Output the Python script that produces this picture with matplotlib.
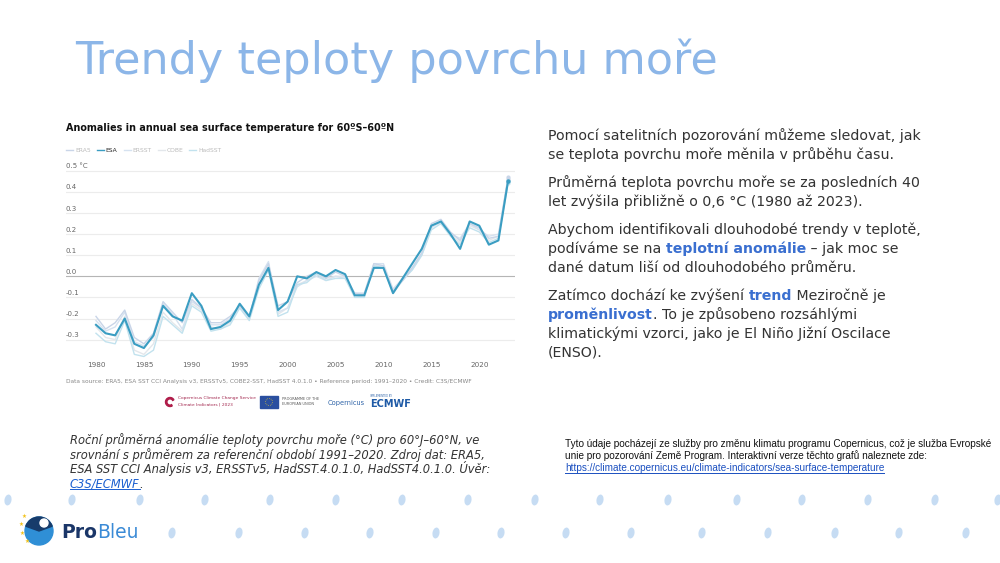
"""
Trendy teploty povrchu more - slide ProBleu.
"""
import matplotlib
matplotlib.use("Agg")
import matplotlib.pyplot as plt
import matplotlib.transforms as mtransforms
from matplotlib.patches import Ellipse, Rectangle, Circle, Wedge
import numpy as np

# ---- data -------------------------------------------------------------
years = list(range(1980, 2024))

esa = [-0.23, -0.27, -0.28, -0.20, -0.32, -0.34, -0.28, -0.14, -0.19, -0.21,
       -0.08, -0.14, -0.25, -0.24, -0.21, -0.13, -0.19, -0.04, 0.04, -0.16,
       -0.12, 0.00, -0.01, 0.02, 0.00, 0.03, 0.01, -0.09, -0.09, 0.04,
       0.04, -0.08, -0.01, 0.06, 0.13, 0.24, 0.26, 0.20, 0.13, 0.26,
       0.24, 0.15, 0.17, 0.45]
era5 = [-0.19, -0.25, -0.22, -0.16, -0.29, -0.32, -0.27, -0.12, -0.17, -0.22,
        -0.11, -0.15, -0.22, -0.22, -0.19, -0.14, -0.19, -0.02, 0.06, -0.14,
        -0.12, -0.03, 0.00, 0.02, -0.01, 0.02, 0.00, -0.08, -0.08, 0.06,
        0.05, -0.07, -0.02, 0.04, 0.11, 0.25, 0.27, 0.21, 0.17, 0.25,
        0.23, 0.18, 0.19, 0.47]
ersst = [-0.21, -0.26, -0.24, -0.17, -0.31, -0.33, -0.29, -0.13, -0.18, -0.25,
         -0.12, -0.15, -0.23, -0.23, -0.20, -0.15, -0.20, -0.01, 0.07, -0.17,
         -0.15, -0.05, -0.02, 0.00, -0.02, 0.00, -0.01, -0.08, -0.09, 0.06,
         0.06, -0.06, -0.01, 0.03, 0.10, 0.23, 0.26, 0.20, 0.18, 0.25,
         0.22, 0.19, 0.20, 0.46]
cobe = [-0.24, -0.29, -0.30, -0.19, -0.35, -0.37, -0.32, -0.17, -0.22, -0.26,
        -0.13, -0.16, -0.24, -0.25, -0.22, -0.14, -0.20, -0.04, 0.05, -0.18,
        -0.15, -0.04, -0.02, 0.01, -0.01, 0.00, 0.00, -0.09, -0.10, 0.05,
        0.05, -0.07, -0.02, 0.04, 0.11, 0.24, 0.25, 0.20, 0.16, 0.24,
        0.22, 0.17, 0.19, 0.46]
hadsst = [-0.27, -0.31, -0.32, -0.21, -0.37, -0.38, -0.35, -0.19, -0.23, -0.27,
          -0.14, -0.17, -0.26, -0.25, -0.23, -0.15, -0.21, -0.06, 0.03, -0.19,
          -0.17, -0.04, -0.03, 0.01, -0.02, -0.01, -0.01, -0.10, -0.10, 0.05,
          0.04, -0.08, -0.02, 0.03, 0.10, 0.22, 0.25, 0.19, 0.15, 0.23,
          0.21, 0.16, 0.18, 0.44]

series_names = ["ERA5", "ESA", "ERSST", "COBE", "HadSST"]
y_ticks = [-0.3, -0.2, -0.1, 0.0, 0.1, 0.2, 0.3, 0.4, 0.5]
x_ticks = [1980, 1985, 1990, 1995, 2000, 2005, 2010, 2015, 2020]

W, H = 1000, 563
TXT = "#333333"
BLUE = "#3a6fd0"

fig = plt.figure(figsize=(10, 5.63), dpi=100)
fig.patch.set_facecolor("white")

# background axes in pixel coordinates
bg = fig.add_axes([0, 0, 1, 1])
bg.set_xlim(0, W)
bg.set_ylim(H, 0)
bg.axis("off")
bg.set_zorder(0)


def rich_line(x, y, parts, size, family="DejaVu Sans", style="normal"):
    """Draw a line made of (text, weight, color) pieces one after another."""
    r = fig.canvas.get_renderer()
    for txt, weight, color in parts:
        t = bg.text(x, y, txt, fontsize=size, fontweight=weight, color=color,
                    family=family, style=style, va="baseline", ha="left")
        bb = t.get_window_extent(renderer=r)
        x += bb.width
    return x


def link(x, y, txt, size, family="DejaVu Sans", style="normal", color="#1a5fd0"):
    r = fig.canvas.get_renderer()
    t = bg.text(x, y, txt, fontsize=size, color=color, family=family,
                style=style, va="baseline", ha="left")
    bb = t.get_window_extent(renderer=r)
    bg.plot([x, x + bb.width], [y + 1.5, y + 1.5], color=color, lw=0.7)
    return x + bb.width


# ---- title ----
bg.text(75, 74, "Trendy teploty povrchu moře", fontsize=32, color="#8cb6e8",
        va="baseline", ha="left")

# ---- chart image ----
bg.text(66, 131, "Anomalies in annual sea surface temperature for 60ºS–60ºN",
        fontsize=6.9, fontweight="bold", color="#111111", va="baseline")

colors = {"ERA5": "#c9d5e8", "ESA": "#3a9dc2", "ERSST": "#d6e2f0",
          "COBE": "#e3e7eb", "HadSST": "#c2e2ee"}
data = {"ERA5": era5, "ESA": esa, "ERSST": ersst, "COBE": cobe, "HadSST": hadsst}

# legend
lx = 66
r = fig.canvas.get_renderer()
for name in series_names:
    bg.plot([lx, lx + 7], [150, 150], color=colors[name], lw=1.0)
    t = bg.text(lx + 9, 150, name, fontsize=4.3, va="center",
                color="#222222" if name == "ESA" else "#bbbbbb")
    lx += 9 + t.get_window_extent(renderer=r).width + 6

# axes placement: 1980 -> x=96 px, 2020 -> 479.3 px; 0 -> y=276.3 px, 0.1 = 21.1 px
ax = fig.add_axes([66 / W, 1 - 360.7 / H, (515 - 66) / W, (360.7 - 166.6) / H])
ax.set_zorder(1)
ax.patch.set_alpha(0)
ax.set_xlim(1976.87, 2023.73)
ax.set_ylim(-0.40, 0.52)
for s in ax.spines.values():
    s.set_visible(False)
ax.set_xticks([])
ax.set_yticks([])

for v in y_ticks:
    ax.axhline(v, color="#b5b5b5" if v == 0 else "#ececec", lw=0.8, zorder=0)
blend = mtransforms.blended_transform_factory(ax.transAxes, ax.transData)
for v in y_ticks:
    lab = "0.5 °C" if v == 0.5 else "%.1f" % v
    ax.text(0, v + 0.007, lab, transform=blend, fontsize=5.0, color="#666666",
            va="bottom", ha="left")

for name in ["COBE", "ERSST", "HadSST", "ERA5"]:
    ax.plot(years, data[name], color=colors[name], lw=1.0, zorder=2)
    ax.plot(years[-1], data[name][-1], "o", ms=2, color=colors[name], zorder=2)
ax.plot(years, esa, color=colors["ESA"], lw=1.5, zorder=3)
ax.plot(years[-1], esa[-1], "o", ms=2.2, color=colors["ESA"], zorder=3)

xblend = mtransforms.blended_transform_factory(ax.transData, ax.transAxes)
for xt in x_ticks:
    ax.text(xt, -0.005, str(xt), transform=xblend, fontsize=5.2,
            color="#666666", ha="center", va="top")

bg.text(66, 383, "Data source: ERA5, ESA SST CCI Analysis v3, ERSSTv5, COBE2-SST, "
        "HadSST 4.0.1.0 • Reference period: 1991–2020 • Credit: C3S/ECMWF",
        fontsize=4.25, color="#888888", va="baseline")

# logos row
bg.add_patch(Wedge((170, 402), 4.5, 60, 330, width=1.4, color="#b01d4a"))
bg.text(178, 399.5, "Copernicus Climate Change Service", fontsize=3.2,
        color="#a3284f", va="baseline")
bg.text(178, 406, "Climate Indicators | 2023", fontsize=3.2,
        color="#a3284f", va="baseline")
bg.add_patch(Rectangle((260, 396), 18, 12, color="#2a4f9f"))
bg.add_patch(Circle((269, 402), 3.5, fill=False, ec="#f3d32a", lw=0.5, ls=":"))
bg.text(282, 400, "PROGRAMME OF THE", fontsize=2.5, color="#555555", va="baseline")
bg.text(282, 405, "EUROPEAN UNION", fontsize=2.5, color="#555555", va="baseline")
bg.text(328, 405, "Copernicus", fontsize=4.8, color="#2f64a8", va="baseline")
bg.text(370, 397, "IMPLEMENTED BY", fontsize=1.8, color="#2f64a8", va="baseline")
bg.text(370, 407, "ECMWF", fontsize=7, fontweight="bold", color="#1e5aa6",
        va="baseline")

# ---- right text ----
fs = 10.2
lines = [
    (140, [("Pomocí satelitních pozorování můžeme sledovat, jak", "normal", TXT)]),
    (159, [("se teplota povrchu moře měnila v průběhu času.", "normal", TXT)]),
    (187, [("Průměrná teplota povrchu moře se za posledních 40", "normal", TXT)]),
    (206, [("let zvýšila přibližně o 0,6 °C (1980 až 2023).", "normal", TXT)]),
    (234, [("Abychom identifikovali dlouhodobé trendy v teplotě,", "normal", TXT)]),
    (253, [("podíváme se na ", "normal", TXT), ("teplotní anomálie", "bold", BLUE),
           (" – jak moc se", "normal", TXT)]),
    (272, [("dané datum liší od dlouhodobého průměru.", "normal", TXT)]),
    (300, [("Zatímco dochází ke zvýšení ", "normal", TXT), ("trend", "bold", BLUE),
           (" Meziročně je", "normal", TXT)]),
    (319, [("proměnlivost", "bold", BLUE),
           (". To je způsobeno rozsáhlými", "normal", TXT)]),
    (338, [("klimatickými vzorci, jako je El Niño Jižní Oscilace", "normal", TXT)]),
    (357, [("(ENSO).", "normal", TXT)]),
]
for y, parts in lines:
    rich_line(548, y, parts, fs)

# ---- caption ----
cap = ["Roční průměrná anomálie teploty povrchu moře (°C) pro 60°J–60°N, ve",
       "srovnání s průměrem za referenční období 1991–2020. Zdroj dat: ERA5,",
       "ESA SST CCI Analysis v3, ERSSTv5, HadSST.4.0.1.0, HadSST4.0.1.0. Úvěr:"]
for i, c in enumerate(cap):
    bg.text(70, 444 + i * 14.5, c, fontsize=8.3, style="italic", color=TXT,
            va="baseline")
xe = link(70, 487.5, "C3S/ECMWF", 8.3, style="italic")
bg.text(xe, 487.5, ".", fontsize=8.3, style="italic", color=TXT, va="baseline")

# ---- source note ----
note = ["Tyto údaje pocházejí ze služby pro změnu klimatu programu Copernicus, "
        "což je služba Evropské",
        "unie pro pozorování Země Program. Interaktivní verze těchto grafů "
        "naleznete zde:"]
for i, c in enumerate(note):
    bg.text(565, 447 + i * 12, c, fontsize=7.2, family="Liberation Sans",
            color="#111111", va="baseline")
link(565, 471, "https://climate.copernicus.eu/climate-indicators/sea-surface-temperature",
     7.2, family="Liberation Sans", color="#1a4fc0")

# ---- decorative drops ----
drop_row1 = [8, 72, 140, 205, 270, 336, 402, 468, 535, 600, 668, 737, 802,
             868, 935, 998]
drop_row2 = [172, 239, 305, 370, 436, 501, 566, 631, 702, 768, 835, 899, 966]
for x in drop_row1:
    bg.add_patch(Ellipse((x, 500), 7, 11, angle=10, color="#c6dcf3", lw=0))
for x in drop_row2:
    bg.add_patch(Ellipse((x, 533), 7, 11, angle=10, color="#c6dcf3", lw=0))

# ---- ProBleu logo ----
bg.add_patch(Circle((39, 531), 14, color="#2f8fd6"))
bg.add_patch(Wedge((39, 531), 14, 200, 340, color="#173c6b"))
bg.add_patch(Circle((44, 523), 4, color="white"))
for sx, sy in [(24, 516), (21, 524), (22, 533), (27, 541)]:
    bg.text(sx, sy, "★", fontsize=4, color="#f2c21a", ha="center", va="center")
rich_line(61, 538, [("Pro", "bold", "#1a3668"), ("Bleu", "normal", "#3a8ad6")], 13.5)

fig.savefig("out.png", dpi=100)
